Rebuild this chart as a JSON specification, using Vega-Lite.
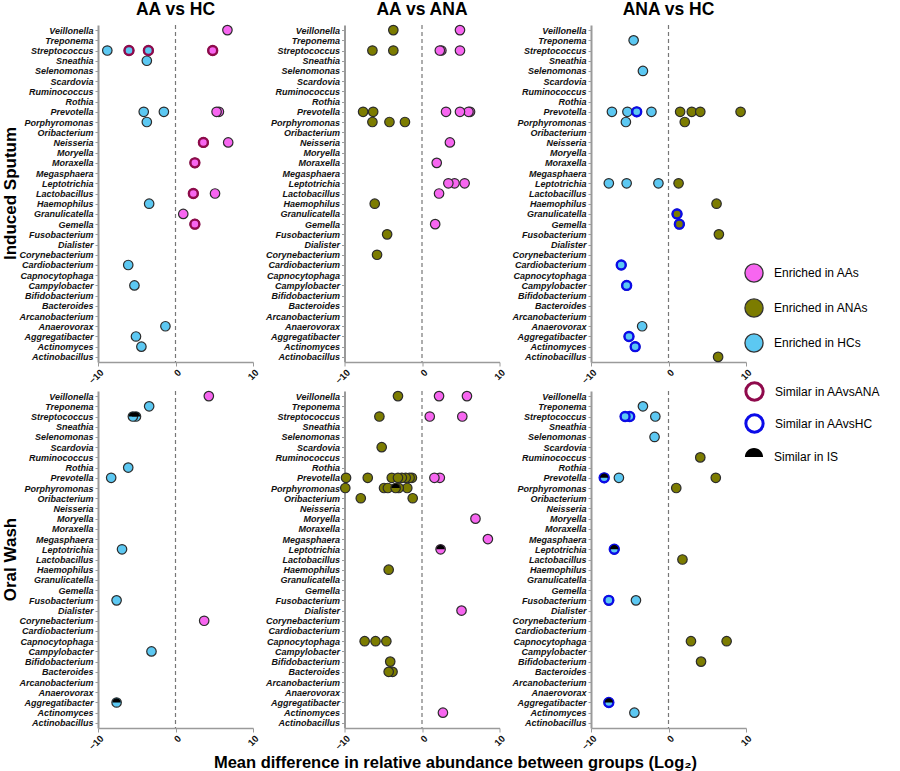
{
  "$schema": "https://vega.github.io/schema/vega-lite/v6.json",
  "padding": {"top": 0, "left": 1, "right": 4, "bottom": 3},
  "background": "white",
  "title": {"text": "Mean difference in relative abundance between groups (Log₂)", "orient": "bottom", "anchor": "middle", "fontSize": 16.5, "fontWeight": "bold", "font": "Liberation Sans", "color": "#000", "offset": 4, "dx": 14},
  "data": {"values": [
    {"s":"Induced Sputum","c":"AA vs HC","genus":"Veillonella","d":6.7,"e":"AA"},
    {"s":"Induced Sputum","c":"AA vs HC","genus":"Streptococcus","d":-8.8,"e":"HC"},
    {"s":"Induced Sputum","c":"AA vs HC","genus":"Streptococcus","d":-6.0,"e":"HC","r":"AAvsANA"},
    {"s":"Induced Sputum","c":"AA vs HC","genus":"Streptococcus","d":-3.5,"e":"HC","r":"AAvsANA"},
    {"s":"Induced Sputum","c":"AA vs HC","genus":"Streptococcus","d":4.8,"e":"AA","r":"AAvsANA"},
    {"s":"Induced Sputum","c":"AA vs HC","genus":"Sneathia","d":-3.7,"e":"HC"},
    {"s":"Induced Sputum","c":"AA vs HC","genus":"Prevotella","d":-4.1,"e":"HC"},
    {"s":"Induced Sputum","c":"AA vs HC","genus":"Prevotella","d":-1.5,"e":"HC"},
    {"s":"Induced Sputum","c":"AA vs HC","genus":"Prevotella","d":5.6,"e":"AA"},
    {"s":"Induced Sputum","c":"AA vs HC","genus":"Prevotella","d":5.3,"e":"AA"},
    {"s":"Induced Sputum","c":"AA vs HC","genus":"Porphyromonas","d":-3.7,"e":"HC"},
    {"s":"Induced Sputum","c":"AA vs HC","genus":"Neisseria","d":3.6,"e":"AA","r":"AAvsANA"},
    {"s":"Induced Sputum","c":"AA vs HC","genus":"Neisseria","d":6.8,"e":"AA"},
    {"s":"Induced Sputum","c":"AA vs HC","genus":"Moraxella","d":2.5,"e":"AA","r":"AAvsANA"},
    {"s":"Induced Sputum","c":"AA vs HC","genus":"Lactobacillus","d":2.3,"e":"AA","r":"AAvsANA"},
    {"s":"Induced Sputum","c":"AA vs HC","genus":"Lactobacillus","d":5.1,"e":"AA"},
    {"s":"Induced Sputum","c":"AA vs HC","genus":"Haemophilus","d":-3.4,"e":"HC"},
    {"s":"Induced Sputum","c":"AA vs HC","genus":"Granulicatella","d":1.0,"e":"AA"},
    {"s":"Induced Sputum","c":"AA vs HC","genus":"Gemella","d":2.5,"e":"AA","r":"AAvsANA"},
    {"s":"Induced Sputum","c":"AA vs HC","genus":"Cardiobacterium","d":-6.1,"e":"HC"},
    {"s":"Induced Sputum","c":"AA vs HC","genus":"Campylobacter","d":-5.3,"e":"HC"},
    {"s":"Induced Sputum","c":"AA vs HC","genus":"Anaerovorax","d":-1.3,"e":"HC"},
    {"s":"Induced Sputum","c":"AA vs HC","genus":"Aggregatibacter","d":-5.1,"e":"HC"},
    {"s":"Induced Sputum","c":"AA vs HC","genus":"Actinomyces","d":-4.4,"e":"HC"},

    {"s":"Induced Sputum","c":"AA vs ANA","genus":"Veillonella","d":-3.7,"e":"ANA"},
    {"s":"Induced Sputum","c":"AA vs ANA","genus":"Veillonella","d":4.9,"e":"AA"},
    {"s":"Induced Sputum","c":"AA vs ANA","genus":"Streptococcus","d":-6.4,"e":"ANA"},
    {"s":"Induced Sputum","c":"AA vs ANA","genus":"Streptococcus","d":-3.7,"e":"ANA"},
    {"s":"Induced Sputum","c":"AA vs ANA","genus":"Streptococcus","d":2.5,"e":"AA"},
    {"s":"Induced Sputum","c":"AA vs ANA","genus":"Streptococcus","d":2.3,"e":"AA"},
    {"s":"Induced Sputum","c":"AA vs ANA","genus":"Streptococcus","d":4.9,"e":"AA"},
    {"s":"Induced Sputum","c":"AA vs ANA","genus":"Prevotella","d":-7.6,"e":"ANA"},
    {"s":"Induced Sputum","c":"AA vs ANA","genus":"Prevotella","d":-6.3,"e":"ANA"},
    {"s":"Induced Sputum","c":"AA vs ANA","genus":"Prevotella","d":3.1,"e":"AA"},
    {"s":"Induced Sputum","c":"AA vs ANA","genus":"Prevotella","d":6.2,"e":"AA"},
    {"s":"Induced Sputum","c":"AA vs ANA","genus":"Prevotella","d":6.0,"e":"AA"},
    {"s":"Induced Sputum","c":"AA vs ANA","genus":"Prevotella","d":4.9,"e":"AA"},
    {"s":"Induced Sputum","c":"AA vs ANA","genus":"Porphyromonas","d":-6.4,"e":"ANA"},
    {"s":"Induced Sputum","c":"AA vs ANA","genus":"Porphyromonas","d":-4.2,"e":"ANA"},
    {"s":"Induced Sputum","c":"AA vs ANA","genus":"Porphyromonas","d":-2.2,"e":"ANA"},
    {"s":"Induced Sputum","c":"AA vs ANA","genus":"Neisseria","d":3.6,"e":"AA"},
    {"s":"Induced Sputum","c":"AA vs ANA","genus":"Moraxella","d":1.9,"e":"AA"},
    {"s":"Induced Sputum","c":"AA vs ANA","genus":"Leptotrichia","d":4.2,"e":"AA"},
    {"s":"Induced Sputum","c":"AA vs ANA","genus":"Leptotrichia","d":3.4,"e":"AA"},
    {"s":"Induced Sputum","c":"AA vs ANA","genus":"Leptotrichia","d":5.5,"e":"AA"},
    {"s":"Induced Sputum","c":"AA vs ANA","genus":"Lactobacillus","d":2.2,"e":"AA"},
    {"s":"Induced Sputum","c":"AA vs ANA","genus":"Haemophilus","d":-6.1,"e":"ANA"},
    {"s":"Induced Sputum","c":"AA vs ANA","genus":"Gemella","d":1.7,"e":"AA"},
    {"s":"Induced Sputum","c":"AA vs ANA","genus":"Fusobacterium","d":-4.5,"e":"ANA"},
    {"s":"Induced Sputum","c":"AA vs ANA","genus":"Corynebacterium","d":-5.8,"e":"ANA"},

    {"s":"Induced Sputum","c":"ANA vs HC","genus":"Treponema","d":-4.5,"e":"HC"},
    {"s":"Induced Sputum","c":"ANA vs HC","genus":"Selenomonas","d":-3.3,"e":"HC"},
    {"s":"Induced Sputum","c":"ANA vs HC","genus":"Prevotella","d":-7.3,"e":"HC"},
    {"s":"Induced Sputum","c":"ANA vs HC","genus":"Prevotella","d":-5.3,"e":"HC"},
    {"s":"Induced Sputum","c":"ANA vs HC","genus":"Prevotella","d":-4.1,"e":"HC","r":"AAvsHC"},
    {"s":"Induced Sputum","c":"ANA vs HC","genus":"Prevotella","d":-2.2,"e":"HC"},
    {"s":"Induced Sputum","c":"ANA vs HC","genus":"Prevotella","d":1.5,"e":"ANA"},
    {"s":"Induced Sputum","c":"ANA vs HC","genus":"Prevotella","d":3.0,"e":"ANA"},
    {"s":"Induced Sputum","c":"ANA vs HC","genus":"Prevotella","d":4.1,"e":"ANA"},
    {"s":"Induced Sputum","c":"ANA vs HC","genus":"Prevotella","d":9.3,"e":"ANA"},
    {"s":"Induced Sputum","c":"ANA vs HC","genus":"Porphyromonas","d":-5.5,"e":"HC"},
    {"s":"Induced Sputum","c":"ANA vs HC","genus":"Porphyromonas","d":2.1,"e":"ANA"},
    {"s":"Induced Sputum","c":"ANA vs HC","genus":"Leptotrichia","d":-7.7,"e":"HC"},
    {"s":"Induced Sputum","c":"ANA vs HC","genus":"Leptotrichia","d":-5.4,"e":"HC"},
    {"s":"Induced Sputum","c":"ANA vs HC","genus":"Leptotrichia","d":-1.3,"e":"HC"},
    {"s":"Induced Sputum","c":"ANA vs HC","genus":"Leptotrichia","d":1.3,"e":"ANA"},
    {"s":"Induced Sputum","c":"ANA vs HC","genus":"Haemophilus","d":6.2,"e":"ANA"},
    {"s":"Induced Sputum","c":"ANA vs HC","genus":"Granulicatella","d":1.1,"e":"ANA","r":"AAvsHC"},
    {"s":"Induced Sputum","c":"ANA vs HC","genus":"Gemella","d":1.4,"e":"ANA","r":"AAvsHC"},
    {"s":"Induced Sputum","c":"ANA vs HC","genus":"Fusobacterium","d":6.5,"e":"ANA"},
    {"s":"Induced Sputum","c":"ANA vs HC","genus":"Cardiobacterium","d":-6.1,"e":"HC","r":"AAvsHC"},
    {"s":"Induced Sputum","c":"ANA vs HC","genus":"Campylobacter","d":-5.4,"e":"HC","r":"AAvsHC"},
    {"s":"Induced Sputum","c":"ANA vs HC","genus":"Anaerovorax","d":-3.4,"e":"HC"},
    {"s":"Induced Sputum","c":"ANA vs HC","genus":"Aggregatibacter","d":-5.1,"e":"HC","r":"AAvsHC"},
    {"s":"Induced Sputum","c":"ANA vs HC","genus":"Actinomyces","d":-4.3,"e":"HC","r":"AAvsHC"},
    {"s":"Induced Sputum","c":"ANA vs HC","genus":"Actinobacillus","d":6.4,"e":"ANA"},

    {"s":"Oral Wash","c":"AA vs HC","genus":"Veillonella","d":4.3,"e":"AA"},
    {"s":"Oral Wash","c":"AA vs HC","genus":"Treponema","d":-3.4,"e":"HC"},
    {"s":"Oral Wash","c":"AA vs HC","genus":"Streptococcus","d":-5.1,"e":"HC","i":"IS"},
    {"s":"Oral Wash","c":"AA vs HC","genus":"Streptococcus","d":-5.5,"e":"HC","i":"IS"},
    {"s":"Oral Wash","c":"AA vs HC","genus":"Rothia","d":-6.1,"e":"HC"},
    {"s":"Oral Wash","c":"AA vs HC","genus":"Prevotella","d":-8.3,"e":"HC"},
    {"s":"Oral Wash","c":"AA vs HC","genus":"Leptotrichia","d":-6.9,"e":"HC"},
    {"s":"Oral Wash","c":"AA vs HC","genus":"Fusobacterium","d":-7.6,"e":"HC"},
    {"s":"Oral Wash","c":"AA vs HC","genus":"Corynebacterium","d":3.7,"e":"AA"},
    {"s":"Oral Wash","c":"AA vs HC","genus":"Campylobacter","d":-3.1,"e":"HC"},
    {"s":"Oral Wash","c":"AA vs HC","genus":"Aggregatibacter","d":-7.6,"e":"HC","i":"IS"},

    {"s":"Oral Wash","c":"AA vs ANA","genus":"Veillonella","d":-3.1,"e":"ANA"},
    {"s":"Oral Wash","c":"AA vs ANA","genus":"Veillonella","d":2.2,"e":"AA"},
    {"s":"Oral Wash","c":"AA vs ANA","genus":"Veillonella","d":5.8,"e":"AA"},
    {"s":"Oral Wash","c":"AA vs ANA","genus":"Streptococcus","d":-5.5,"e":"ANA"},
    {"s":"Oral Wash","c":"AA vs ANA","genus":"Streptococcus","d":1.0,"e":"AA"},
    {"s":"Oral Wash","c":"AA vs ANA","genus":"Streptococcus","d":5.2,"e":"AA"},
    {"s":"Oral Wash","c":"AA vs ANA","genus":"Scardovia","d":-5.2,"e":"ANA"},
    {"s":"Oral Wash","c":"AA vs ANA","genus":"Prevotella","d":-9.8,"e":"ANA"},
    {"s":"Oral Wash","c":"AA vs ANA","genus":"Prevotella","d":-7.0,"e":"ANA"},
    {"s":"Oral Wash","c":"AA vs ANA","genus":"Prevotella","d":-1.3,"e":"ANA"},
    {"s":"Oral Wash","c":"AA vs ANA","genus":"Prevotella","d":-1.6,"e":"ANA"},
    {"s":"Oral Wash","c":"AA vs ANA","genus":"Prevotella","d":-2.1,"e":"ANA"},
    {"s":"Oral Wash","c":"AA vs ANA","genus":"Prevotella","d":-2.6,"e":"ANA"},
    {"s":"Oral Wash","c":"AA vs ANA","genus":"Prevotella","d":-3.9,"e":"ANA"},
    {"s":"Oral Wash","c":"AA vs ANA","genus":"Prevotella","d":-3.1,"e":"ANA"},
    {"s":"Oral Wash","c":"AA vs ANA","genus":"Prevotella","d":2.3,"e":"AA"},
    {"s":"Oral Wash","c":"AA vs ANA","genus":"Prevotella","d":1.6,"e":"AA"},
    {"s":"Oral Wash","c":"AA vs ANA","genus":"Porphyromonas","d":-9.9,"e":"ANA"},
    {"s":"Oral Wash","c":"AA vs ANA","genus":"Porphyromonas","d":-4.9,"e":"ANA"},
    {"s":"Oral Wash","c":"AA vs ANA","genus":"Porphyromonas","d":-4.4,"e":"ANA"},
    {"s":"Oral Wash","c":"AA vs ANA","genus":"Porphyromonas","d":-1.9,"e":"ANA"},
    {"s":"Oral Wash","c":"AA vs ANA","genus":"Porphyromonas","d":-3.0,"e":"ANA"},
    {"s":"Oral Wash","c":"AA vs ANA","genus":"Porphyromonas","d":-3.4,"e":"ANA","i":"IS"},
    {"s":"Oral Wash","c":"AA vs ANA","genus":"Oribacterium","d":-7.9,"e":"ANA"},
    {"s":"Oral Wash","c":"AA vs ANA","genus":"Oribacterium","d":-1.2,"e":"ANA"},
    {"s":"Oral Wash","c":"AA vs ANA","genus":"Moryella","d":6.9,"e":"AA"},
    {"s":"Oral Wash","c":"AA vs ANA","genus":"Megasphaera","d":8.5,"e":"AA"},
    {"s":"Oral Wash","c":"AA vs ANA","genus":"Leptotrichia","d":2.4,"e":"AA","i":"IS"},
    {"s":"Oral Wash","c":"AA vs ANA","genus":"Haemophilus","d":-4.3,"e":"ANA"},
    {"s":"Oral Wash","c":"AA vs ANA","genus":"Dialister","d":5.1,"e":"AA"},
    {"s":"Oral Wash","c":"AA vs ANA","genus":"Capnocytophaga","d":-7.4,"e":"ANA"},
    {"s":"Oral Wash","c":"AA vs ANA","genus":"Capnocytophaga","d":-6.0,"e":"ANA"},
    {"s":"Oral Wash","c":"AA vs ANA","genus":"Capnocytophaga","d":-4.6,"e":"ANA"},
    {"s":"Oral Wash","c":"AA vs ANA","genus":"Bifidobacterium","d":-4.1,"e":"ANA"},
    {"s":"Oral Wash","c":"AA vs ANA","genus":"Bacteroides","d":-3.8,"e":"ANA"},
    {"s":"Oral Wash","c":"AA vs ANA","genus":"Bacteroides","d":-4.3,"e":"ANA"},
    {"s":"Oral Wash","c":"AA vs ANA","genus":"Actinomyces","d":2.7,"e":"AA"},

    {"s":"Oral Wash","c":"ANA vs HC","genus":"Treponema","d":-3.3,"e":"HC"},
    {"s":"Oral Wash","c":"ANA vs HC","genus":"Streptococcus","d":-5.0,"e":"HC","r":"AAvsHC"},
    {"s":"Oral Wash","c":"ANA vs HC","genus":"Streptococcus","d":-5.6,"e":"HC","r":"AAvsHC"},
    {"s":"Oral Wash","c":"ANA vs HC","genus":"Streptococcus","d":-1.7,"e":"HC"},
    {"s":"Oral Wash","c":"ANA vs HC","genus":"Selenomonas","d":-1.8,"e":"HC"},
    {"s":"Oral Wash","c":"ANA vs HC","genus":"Ruminococcus","d":4.1,"e":"ANA"},
    {"s":"Oral Wash","c":"ANA vs HC","genus":"Prevotella","d":-8.3,"e":"HC","r":"AAvsHC","i":"IS"},
    {"s":"Oral Wash","c":"ANA vs HC","genus":"Prevotella","d":-6.4,"e":"HC"},
    {"s":"Oral Wash","c":"ANA vs HC","genus":"Prevotella","d":6.1,"e":"ANA"},
    {"s":"Oral Wash","c":"ANA vs HC","genus":"Porphyromonas","d":1.0,"e":"ANA"},
    {"s":"Oral Wash","c":"ANA vs HC","genus":"Leptotrichia","d":-7.0,"e":"HC","r":"AAvsHC","i":"IS"},
    {"s":"Oral Wash","c":"ANA vs HC","genus":"Lactobacillus","d":1.8,"e":"ANA"},
    {"s":"Oral Wash","c":"ANA vs HC","genus":"Fusobacterium","d":-7.7,"e":"HC","r":"AAvsHC"},
    {"s":"Oral Wash","c":"ANA vs HC","genus":"Fusobacterium","d":-4.2,"e":"HC"},
    {"s":"Oral Wash","c":"ANA vs HC","genus":"Capnocytophaga","d":2.9,"e":"ANA"},
    {"s":"Oral Wash","c":"ANA vs HC","genus":"Capnocytophaga","d":7.5,"e":"ANA"},
    {"s":"Oral Wash","c":"ANA vs HC","genus":"Bifidobacterium","d":4.2,"e":"ANA"},
    {"s":"Oral Wash","c":"ANA vs HC","genus":"Aggregatibacter","d":-7.7,"e":"HC","r":"AAvsHC","i":"IS"},
    {"s":"Oral Wash","c":"ANA vs HC","genus":"Actinomyces","d":-4.4,"e":"HC"}
  ]},
  "facet": {
    "row": {"field": "s", "type": "nominal", "title": null, "header": {"labelAngle": -90, "labelOrient": "left", "labelFontSize": 17, "labelFontWeight": "bold", "labelFont": "Liberation Sans", "labelColor": "#000", "labelPadding": -10}},
    "column": {"field": "c", "type": "nominal", "title": null, "sort": ["AA vs HC", "AA vs ANA", "ANA vs HC"], "header": {"labelFontSize": 17.5, "labelFontWeight": "bold", "labelFont": "Liberation Sans", "labelColor": "#000", "labelPadding": 4}}
  },
  "spacing": {"row": 2, "column": 4.5},
  "resolve": {"axis": {"x": "independent", "y": "independent"}},
  "spec": {
    "width": 155,
    "height": 337,
    "layer": [
      {
        "transform": [{"aggregate": [{"op": "count", "as": "n"}]}],
        "mark": {"type": "rule", "color": "#777777", "strokeDash": [4, 3], "strokeWidth": 1.2},
        "encoding": {"x": {"datum": 0}}
      },
      {
        "mark": {"type": "point", "filled": true, "size": 90, "stroke": "#2b2b2b", "strokeWidth": 1.2, "opacity": 1},
        "encoding": {
          "x": {"field": "d", "type": "quantitative", "scale": {"domain": [-10, 10], "nice": false, "zero": false}, "axis": {"values": [-10, -5, 0, 5, 10], "title": null}},
          "y": {"field": "genus", "type": "nominal", "scale": {"domain": ["Veillonella","Treponema","Streptococcus","Sneathia","Selenomonas","Scardovia","Ruminococcus","Rothia","Prevotella","Porphyromonas","Oribacterium","Neisseria","Moryella","Moraxella","Megasphaera","Leptotrichia","Lactobacillus","Haemophilus","Granulicatella","Gemella","Fusobacterium","Dialister","Corynebacterium","Cardiobacterium","Capnocytophaga","Campylobacter","Bifidobacterium","Bacteroides","Arcanobacterium","Anaerovorax","Aggregatibacter","Actinomyces","Actinobacillus"]}, "axis": {"title": null}},
          "fill": {"field": "e", "type": "nominal", "scale": {"domain": ["AA", "ANA", "HC"], "range": ["#f766f0", "#7c7c00", "#5cc8f2"]},
            "legend": {"orient": "none", "legendX": 646, "legendY": 238, "title": null, "symbolType": "circle", "symbolSize": 330, "symbolStrokeColor": "#333333", "symbolStrokeWidth": 1.3, "symbolOpacity": 1, "labelFontSize": 12, "labelFont": "Liberation Sans", "labelColor": "#000", "labelOffset": 10, "rowPadding": 11, "labelExpr": "'Enriched in ' + datum.label + 's'"}}
        }
      },
      {
        "transform": [{"filter": "isValid(datum.r)"}],
        "mark": {"type": "point", "filled": true, "size": 80, "strokeWidth": 2.4, "opacity": 1},
        "encoding": {
          "x": {"field": "d", "type": "quantitative"},
          "y": {"field": "genus", "type": "nominal"},
          "fill": {"field": "e", "type": "nominal", "scale": {"domain": ["AA", "ANA", "HC"], "range": ["#f766f0", "#7c7c00", "#5cc8f2"]},
            "legend": {"orient": "none", "legendX": 646, "legendY": 238, "title": null, "symbolType": "circle", "symbolSize": 330, "symbolStrokeColor": "#333333", "symbolStrokeWidth": 1.3, "symbolOpacity": 1, "labelFontSize": 12, "labelFont": "Liberation Sans", "labelColor": "#000", "labelOffset": 10, "rowPadding": 11, "labelExpr": "'Enriched in ' + datum.label + 's'"}},
          "stroke": {"field": "r", "type": "nominal", "scale": {"domain": ["AAvsANA", "AAvsHC"], "range": ["#8f0a4c", "#0b0be8"]},
            "legend": {"orient": "none", "legendX": 646, "legendY": 356, "title": null, "symbolType": "circle", "symbolSize": 300, "symbolStrokeWidth": 3, "symbolFillColor": "white", "symbolOpacity": 1, "labelFontSize": 12, "labelFont": "Liberation Sans", "labelColor": "#000", "labelOffset": 10, "rowPadding": 1, "labelExpr": "'Similar in ' + datum.label",
              "encode": {"symbols": {"update": {"fill": {"value": "white"}, "strokeWidth": {"value": 3}, "opacity": {"value": 1}}}}}}
        }
      },
      {
        "transform": [{"filter": "datum.i === 'IS'"}],
        "mark": {"type": "point", "filled": true, "size": 70, "fill": "black", "strokeWidth": 0, "opacity": 1},
        "encoding": {
          "x": {"field": "d", "type": "quantitative"},
          "y": {"field": "genus", "type": "nominal"},
          "shape": {"field": "i", "type": "nominal", "scale": {"domain": ["IS"], "range": ["M-1,0A1,1,0,0,1,1,0Z M-1,0A1,1,0,0,0,1,0A1,1,0,0,1,-1,0"]},
            "legend": {"orient": "none", "legendX": 646, "legendY": 422, "title": null, "symbolSize": 330, "symbolStrokeColor": "black", "symbolStrokeWidth": 1.5, "symbolFillColor": "black", "symbolOpacity": 1, "labelFontSize": 12, "labelFont": "Liberation Sans", "labelColor": "#000", "labelOffset": 10, "labelExpr": "'Similar in ' + datum.label",
              "encode": {"symbols": {"update": {"fill": {"value": "black"}, "stroke": {"value": "black"}, "strokeWidth": {"value": 1.5}, "opacity": {"value": 1}}}}}}
        }
      }
    ]
  },
  "config": {
    "view": {"stroke": null},
    "font": "Liberation Sans",
    "axis": {"grid": false, "domainColor": "#9a9a9a", "tickColor": "#9a9a9a", "labelColor": "#111", "labelFontWeight": "bold", "labelFont": "Liberation Sans"},
    "axisY": {"labelFontStyle": "italic", "labelFontSize": 9, "tickSize": 3, "domainWidth": 2, "labelPadding": 2},
    "axisX": {"labelAngle": -45, "labelFontSize": 9.5, "tickSize": 4, "domainWidth": 1.5, "labelPadding": 1}
  }
}
